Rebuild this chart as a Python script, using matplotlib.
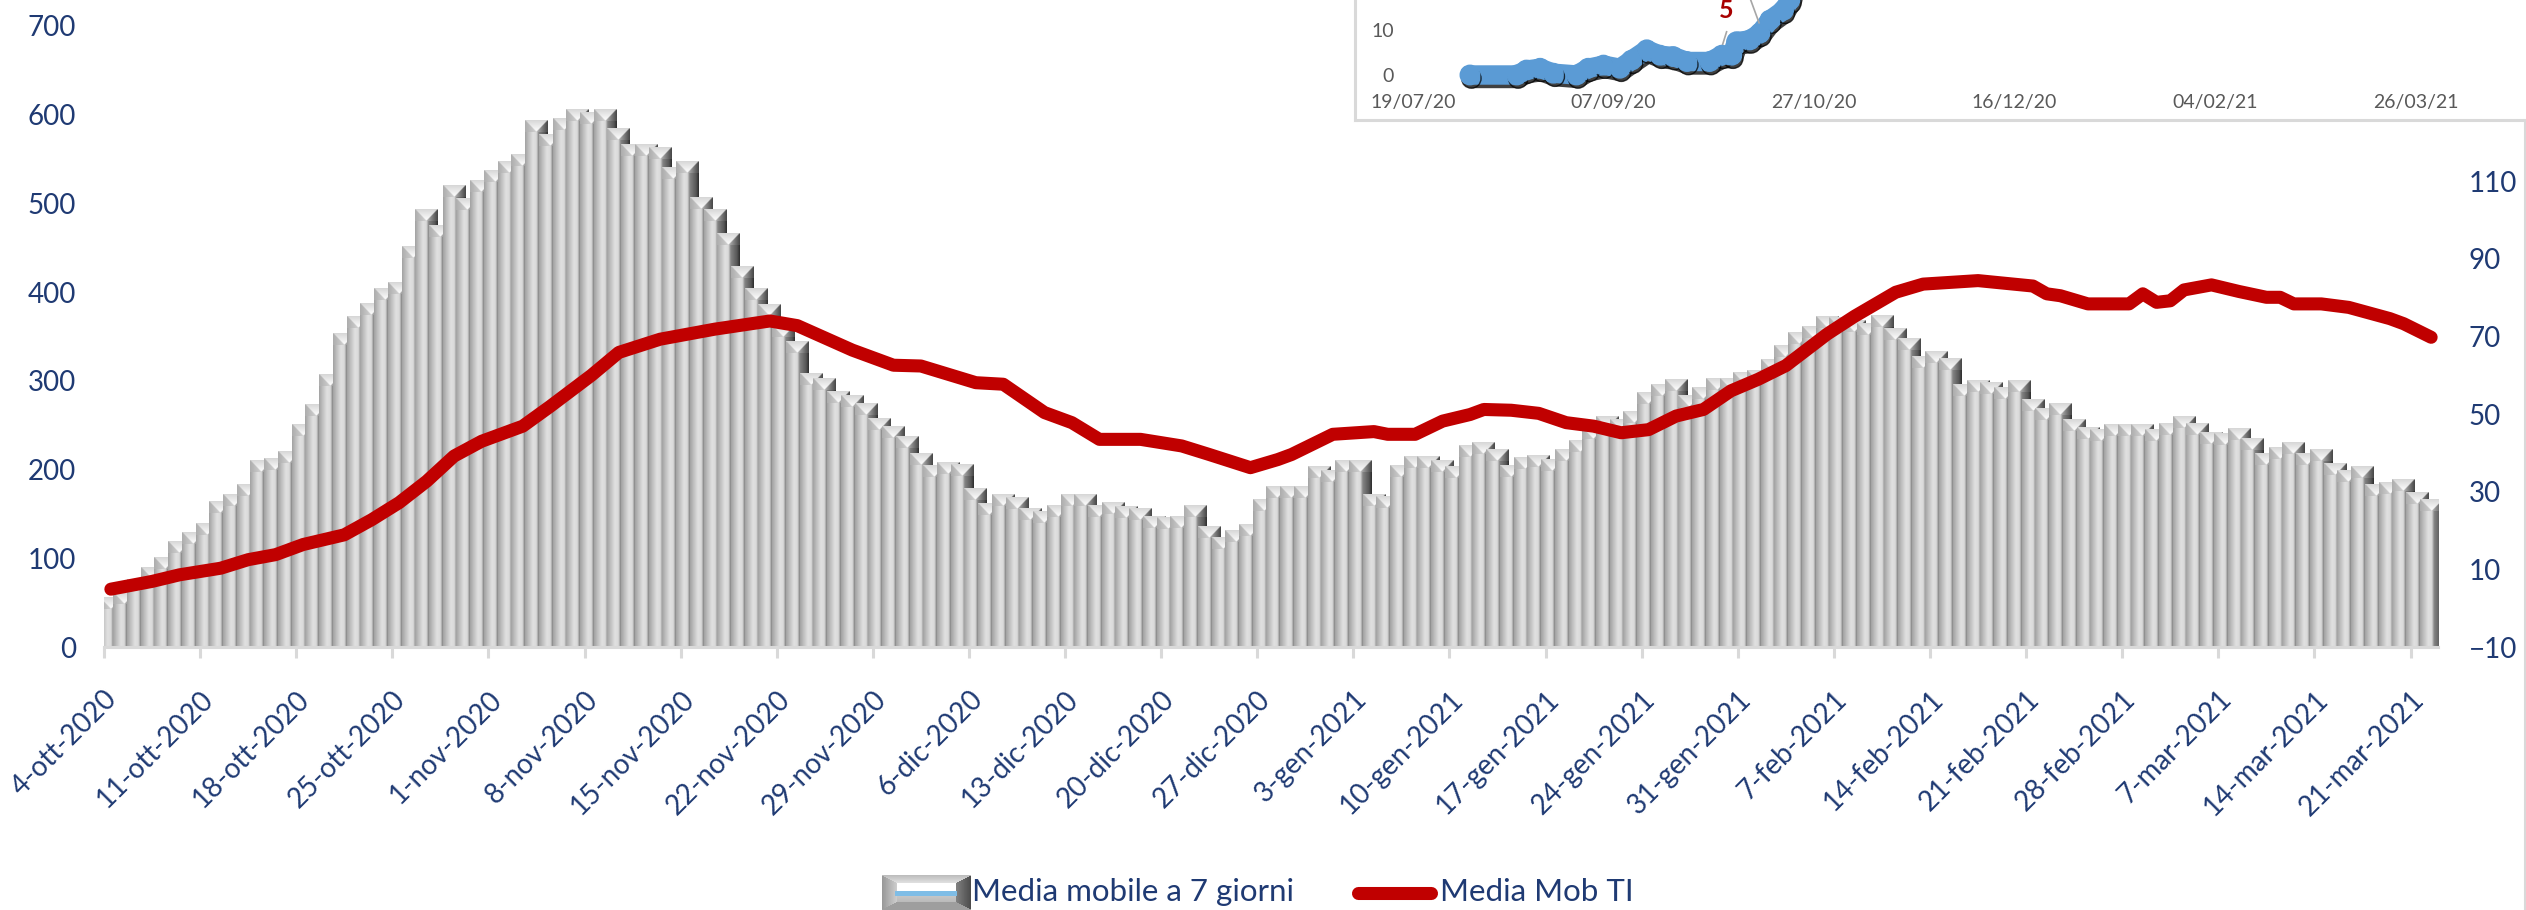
import matplotlib
matplotlib.use("Agg")
import matplotlib.pyplot as plt
import matplotlib.patheffects as pe
import numpy as np

plt.rcParams['font.family'] = ['Lato', 'DejaVu Sans']

# media mobile a 7 giorni, one bar per day from 4-ott-2020
bar_values = [
    56, 62, 76, 90, 101, 119, 129, 139, 164, 172,
    183, 210, 212, 220, 251, 273, 307, 353, 373, 387,
    404, 411, 452, 493, 475, 520, 506, 526, 537, 547,
    555, 594, 578, 596, 606, 603, 606, 584, 566, 567,
    563, 541, 547, 507, 493, 466, 429, 404, 386, 362,
    344, 308, 303, 288, 284, 274, 258, 249, 237, 218,
    205, 208, 206, 179, 162, 172, 169, 156, 153, 160,
    172, 172, 159, 163, 158, 156, 147, 146, 147, 160,
    136, 124, 131, 138, 166, 181, 181, 181, 203, 199,
    210, 210, 172, 170, 205, 215, 215, 210, 203, 227,
    231, 223, 205, 214, 216, 211, 223, 233, 247, 260,
    256, 265, 287, 296, 302, 284, 293, 303, 303, 309,
    312, 324, 340, 354, 361, 373, 372, 368, 365, 374,
    359, 348, 327, 333, 325, 296, 301, 298, 293, 300,
    279, 269, 275, 257, 248, 245, 251, 251, 251, 245,
    252, 260, 252, 242, 241, 246, 235, 218, 225, 230,
    218, 223, 207, 199, 203, 183, 186, 189, 174, 166,
]

# media mob TI (right axis)
line_days = [0, 3, 5, 8, 10, 12, 14, 17, 19, 21, 23, 25, 27, 30, 32, 35, 37, 40, 44, 48,
             50, 54, 57, 59, 63, 65, 68, 70, 72, 75, 78, 80, 83, 85, 86, 89, 92, 93, 95, 97,
             99, 100, 102, 104, 106, 108, 110, 112, 114, 116, 118, 120, 122, 125, 127, 130,
             132, 136, 140, 141, 142, 144, 147, 148, 149, 150, 151, 153, 155, 157, 158, 159,
             161, 163, 166, 167, 169]
line_values = [4.9, 6.9, 8.6, 10.3, 12.5, 13.8, 16.4, 18.9, 22.8, 27.2, 32.7, 39.2, 43, 46.9,
               52, 60, 65.9, 69.3, 71.9, 74, 72.8, 66.5, 62.6, 62.4, 58.1, 57.7, 50.4, 47.8,
               43.5, 43.5, 41.8, 39.6, 36.2, 38.3, 39.6, 44.8, 45.5, 44.8, 44.8, 48.2, 49.9,
               51.2, 51, 50.2, 47.8, 46.9, 45.2, 46, 49.5, 51.2, 56, 59, 62.5, 70.6, 75.2,
               81.4, 83.5, 84.4, 83, 81, 80.5, 78.4, 78.4, 81, 78.8, 79.2, 82, 83.3, 81.6,
               80.1, 80.1, 78.4, 78.4, 77.5, 74.6, 73.3, 69.8]

date_labels = ['4-ott-2020', '11-ott-2020', '18-ott-2020', '25-ott-2020', '1-nov-2020',
               '8-nov-2020', '15-nov-2020', '22-nov-2020', '29-nov-2020', '6-dic-2020',
               '13-dic-2020', '20-dic-2020', '27-dic-2020', '3-gen-2021', '10-gen-2021',
               '17-gen-2021', '24-gen-2021', '31-gen-2021', '7-feb-2021', '14-feb-2021',
               '21-feb-2021', '28-feb-2021', '7-mar-2021', '14-mar-2021', '21-mar-2021']
left_ticks = [0, 100, 200, 300, 400, 500, 600, 700]
right_ticks = [-10, 10, 30, 50, 70, 90, 110, 130, 150]

# small chart in the corner, days since 19/07/20
inset_days = [14.2, 25.9, 28.3, 31.7, 35, 40.8, 43.7, 47.5, 51.6, 54.5, 58.3, 61.6, 64.9,
              68.3, 74, 77, 79.5, 80.7, 84, 86.5, 89, 92.4, 94, 95.5]
inset_values = [0, 0, 1.1, 1.5, 0.4, 0, 1.5, 2.2, 1.5, 3.3, 5.6, 4.4, 4.1,
                3, 3, 4.4, 4.4, 7.4, 7.8, 9.3, 12.2, 14.4, 16.7, 20]
inset_xticks = [0, 50, 100, 150, 200, 250]
inset_xlabels = ['19/07/20', '07/09/20', '27/10/20', '16/12/20', '04/02/21', '26/03/21']

W, H = 2526, 910
NAVY = '#1F3A73'
GRID = '#D9D9D9'
RED = '#C00000'


def px_rect(x0, y0, x1, y1):
    return [x0 / W, 1 - y1 / H, (x1 - x0) / W, (y1 - y0) / H]


def bar_profile():
    u = np.linspace(0, 1, 48)
    return np.interp(u, [0, .15, .35, .5, .6, .72, .88, 1],
                     [.64, .75, .88, .85, .52, .44, .34, .18])


def bar_cap(profile):
    # bevelled top of a bar: white triangle, soft left side, right side fading to dark
    n = len(profile)
    cap = np.zeros((n // 2, n))
    for r in range(n // 2):
        t = r / (n / 2 - 1)
        for c in range(n):
            u = c / (n - 1)
            if abs(u - .5) <= .5 * (1 - t):
                cap[r, c] = .84 + .16 * t
            elif u < .5:
                cap[r, c] = .68 + .14 * (u / .5)
            else:
                cap[r, c] = .72 - .44 * ((u - .5) / .5)
    return cap


def legend_swatch(rows, cols):
    # bevelled rectangle of the legend key
    sw = np.zeros((rows, cols))
    for r in range(rows):
        for c in range(cols):
            y, x = r / (rows - 1), c / (cols - 1)
            top, bot, left, right = y / .22, (1 - y) / .22, x / .16, (1 - x) / .16
            edge = min(top, bot, left, right)
            if edge >= 1:
                sw[r, c] = 1.0 if y < .5 else .80 - .25 * (y - .5)
            elif edge == top:
                sw[r, c] = .74 + .14 * top
            elif edge == bot:
                sw[r, c] = .62
            elif edge == left:
                sw[r, c] = .60 + .2 * left
            else:
                sw[r, c] = .30 + .2 * right
    return sw


fig = plt.figure(figsize=(W / 100, H / 100), dpi=100, facecolor='white')
ax = fig.add_axes(px_rect(104, 26, 2438, 647))

BAR_W = 1.66
CAP_H = 13.0
profile = bar_profile()
body = profile[np.newaxis, :]
cap = bar_cap(profile)
xs = np.arange(len(bar_values)) + 0.5
ax.bar(xs, bar_values, width=BAR_W, color='#B0B0B0', zorder=1)
for i, (x, v) in enumerate(zip(xs, bar_values)):
    z = 2 + i
    ax.imshow(body, extent=(x - BAR_W / 2, x + BAR_W / 2, 0, v - CAP_H), aspect='auto',
              cmap='gray', vmin=0, vmax=1, interpolation='bilinear', zorder=z)
    ax.imshow(cap, extent=(x - BAR_W / 2, x + BAR_W / 2, v - CAP_H, v), aspect='auto',
              cmap='gray', vmin=0, vmax=1, interpolation='bilinear', zorder=z)

ax.set_xlim(0, 170)
ax.set_ylim(0, 700)
ax.set_yticks(left_ticks)
ax.set_xticks(np.arange(len(date_labels)) * 7)
ax.set_xticklabels(date_labels, rotation=45, ha='right', va='top', rotation_mode='anchor')
ax.tick_params(axis='x', length=8, width=2.2, color=GRID, labelcolor=NAVY, labelsize=20, pad=20)
ax.tick_params(axis='y', length=0, labelcolor=NAVY, labelsize=20, pad=20)
for s in ['top', 'left', 'right']:
    ax.spines[s].set_visible(False)
ax.spines['bottom'].set_color(GRID)
ax.spines['bottom'].set_linewidth(2.2)
ax.spines['bottom'].set_zorder(1000)

ax2 = ax.twinx()
ax2.set_ylim(-10, 150)
ax2.set_yticks(right_ticks)
ax2.tick_params(axis='y', length=0, labelcolor=NAVY, labelsize=20, pad=22)
for s in ax2.spines.values():
    s.set_visible(False)
ax2.plot(np.array(line_days) + 0.5, line_values, color=RED, lw=9.4,
         solid_capstyle='round', solid_joinstyle='round')

# inset
ins = fig.add_axes(px_rect(1355, 0, 2526, 120), facecolor='white', zorder=5)
ins.set_xlim((1355 - 1413) / 4.01, (2526 - 1413) / 4.01)
ins.set_ylim((75 - 120) / 4.5, 75 / 4.5)
ins.plot([78.2, 76.8], [9.6, 5.6], color='#A6A6A6', lw=1.2, zorder=1)
ins.plot([84.2, 86.3], [16.7, 11.6], color='#A6A6A6', lw=1.2, zorder=3)
ins.plot(inset_days, inset_values, color='#5B9BD5', lw=14, marker='o', ms=14,
         solid_capstyle='round', solid_joinstyle='round', zorder=2,
         path_effects=[pe.SimpleLineShadow(offset=(1, -2.5), shadow_color='black', alpha=.75),
                       pe.Normal()])
ins.text(78, 14.4, '5', color='#A80000', fontsize=18, fontweight='bold', ha='center', va='center')
ins.set_xticks(inset_xticks)
ins.set_xticklabels(inset_xlabels)
ins.set_yticks([0, 10])
ins.tick_params(axis='x', length=0, labelcolor='#595959', labelsize=14, pad=-19)
ins.tick_params(axis='y', length=0, labelcolor='#595959', labelsize=14, pad=-28)
for s in ['top', 'right']:
    ins.spines[s].set_visible(False)
for s in ['left', 'bottom']:
    ins.spines[s].set_color(GRID)
    ins.spines[s].set_linewidth(2.2)

# legend and outer frame, drawn in pixel coordinates
over = fig.add_axes([0, 0, 1, 1], zorder=6)
over.set_xlim(0, W)
over.set_ylim(H, 0)
over.axis('off')
over.plot([2525, 2525], [120, H], color=GRID, lw=2.2)

over.imshow(legend_swatch(35, 89), extent=(882, 971, 910, 875), aspect='auto', cmap='gray',
            vmin=0, vmax=1, interpolation='bilinear')
over.fill_between([895, 957], 891, 896, color='#7FBDE6', lw=0)
over.set_xlim(0, W)
over.set_ylim(H, 0)
over.text(972, 892, 'Media mobile a 7 giorni', color=NAVY, fontsize=22.5, va='center', ha='left')
over.plot([1358, 1431], [893, 893], color=RED, lw=9.4, solid_capstyle='round')
over.text(1440, 892, 'Media Mob TI', color=NAVY, fontsize=22.5, va='center', ha='left')

fig.savefig('out.png', dpi=100)
